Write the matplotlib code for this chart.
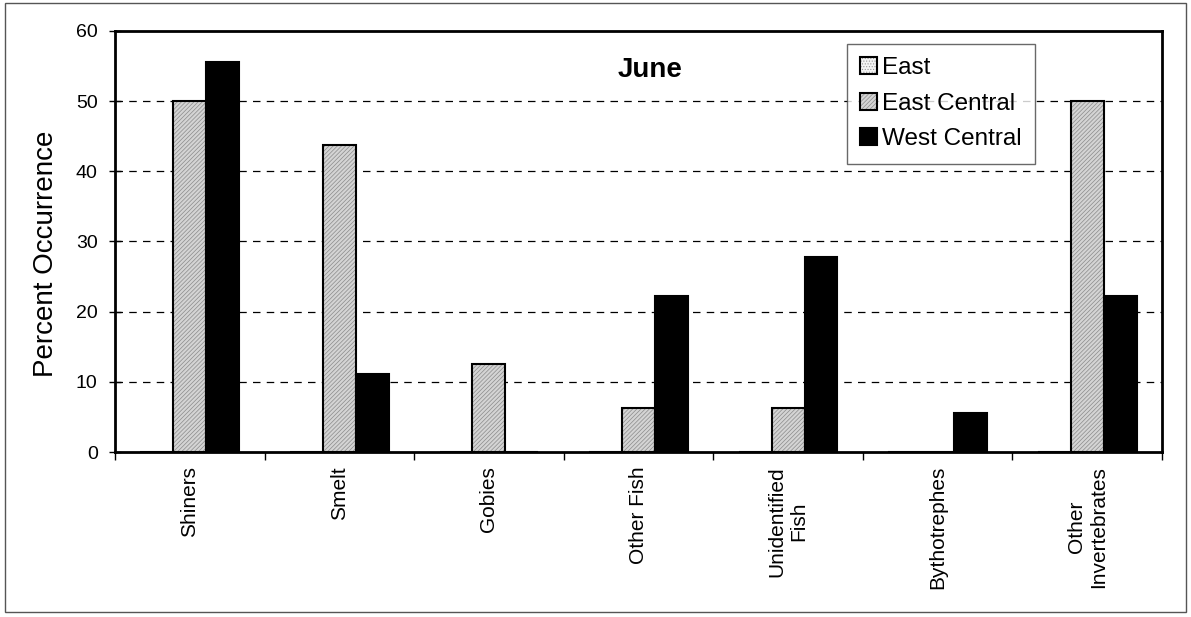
import numpy as np
import matplotlib
matplotlib.use("Agg")
import matplotlib.pyplot as plt
from matplotlib.patches import Rectangle, Patch
from matplotlib.legend_handler import HandlerBase

plt.rcParams['font.family'] = ['Liberation Sans', 'DejaVu Sans']
plt.rcParams['hatch.linewidth'] = 0.5

# diet items and percent occurrence by basin
categories = ["Shiners", "Smelt", "Gobies", "Other Fish",
              "Unidentified\nFish", "Bythotrephes", "Other\nInvertebrates"]
series_names = ["East", "East Central", "West Central"]
east = [0, 0, 0, 0, 0, 0, 0]
east_central = [50.0, 43.75, 12.5, 6.25, 6.25, 0, 50.0]
west_central = [55.6, 11.1, 0, 22.2, 27.8, 5.6, 22.2]


class LayeredHandler(HandlerBase):
    # legend key: hatched fill with a black outline over it
    def create_artists(self, legend, orig_handle, xdescent, ydescent,
                       width, height, fontsize, trans):
        face, hatch, hatch_col = orig_handle
        fill = Rectangle((-xdescent, -ydescent), width, height, facecolor=face,
                         edgecolor=hatch_col, hatch=hatch, linewidth=0, transform=trans)
        box = Rectangle((-xdescent, -ydescent), width, height, fill=False,
                        edgecolor="black", linewidth=1.5, transform=trans)
        return [fill, box]


def hatched_bars(ax, xpos, vals, w, face, hatch, hatch_col):
    # fill + fine hatch first, then a black outline on top
    ax.bar(xpos, vals, w, color=face, edgecolor=hatch_col, linewidth=0,
           hatch=hatch, zorder=3)
    ax.bar(xpos, vals, w, fill=False, edgecolor="black", linewidth=1.5, zorder=4)
    return (face, hatch, hatch_col)


def main():
    fig = plt.figure(figsize=(11.91, 6.17), dpi=100)
    # outer chart border
    fig.patches.append(Rectangle((0.004, 0.008), 0.992, 0.987, transform=fig.transFigure,
                                 fill=False, edgecolor="#555555", linewidth=1.0))

    ax = fig.add_axes([0.0966, 0.2674, 0.8790, 0.6824])

    x = np.arange(len(categories))
    w = 0.22
    h_east = hatched_bars(ax, x - w, east, w, "#f4f4f4", "......", "#999999")
    h_ec = hatched_bars(ax, x, east_central, w, "#d4d4d4", "////////", "#8a8a8a")
    ax.bar(x + w, west_central, w, color="black", edgecolor="black",
           linewidth=1.5, zorder=3)
    h_wc = Patch(facecolor="black", edgecolor="black", linewidth=1.5)

    ax.set_xlim(-0.5, len(categories) - 0.5)
    ax.set_ylim(0, 60)
    ax.set_yticks(range(0, 61, 10))
    ax.tick_params(axis="y", labelsize=14, direction="inout", length=9, width=1, pad=8)
    ax.set_ylabel("Percent Occurrence", fontsize=20)
    ax.yaxis.set_label_coords(-0.054, 0.47)

    # category labels between boundary ticks
    ax.set_xticks(np.arange(len(categories) + 1) - 0.5)
    ax.set_xticklabels([])
    ax.tick_params(axis="x", direction="out", length=6, width=1)
    for i, name in enumerate(categories):
        ax.text(i, -2.0, name, rotation=90, ha="center", va="top", fontsize=15,
                multialignment="center")

    for yv in range(10, 60, 10):
        ax.axhline(yv, color="black", linestyle=(0, (6, 5)), linewidth=0.9, zorder=1)

    for side in ["left", "right", "top", "bottom"]:
        ax.spines[side].set_linewidth(2)

    ax.text(3.08, 54.4, "June", fontsize=20, fontweight="bold", ha="center", va="center")

    leg = ax.legend([h_east, h_ec, h_wc], series_names,
                    handler_map={tuple: LayeredHandler()},
                    loc="upper left", bbox_to_anchor=(0.7112, 0.9287),
                    bbox_transform=fig.transFigure, fontsize=17.5, frameon=True,
                    fancybox=False, handlelength=0.7, handleheight=0.7,
                    handletextpad=0.2, borderpad=0.55, labelspacing=0.55,
                    borderaxespad=0)
    leg.get_frame().set_edgecolor("#444444")
    leg.get_frame().set_linewidth(1.0)

    fig.savefig("out.png", dpi=100)


if __name__ == "__main__":
    main()
